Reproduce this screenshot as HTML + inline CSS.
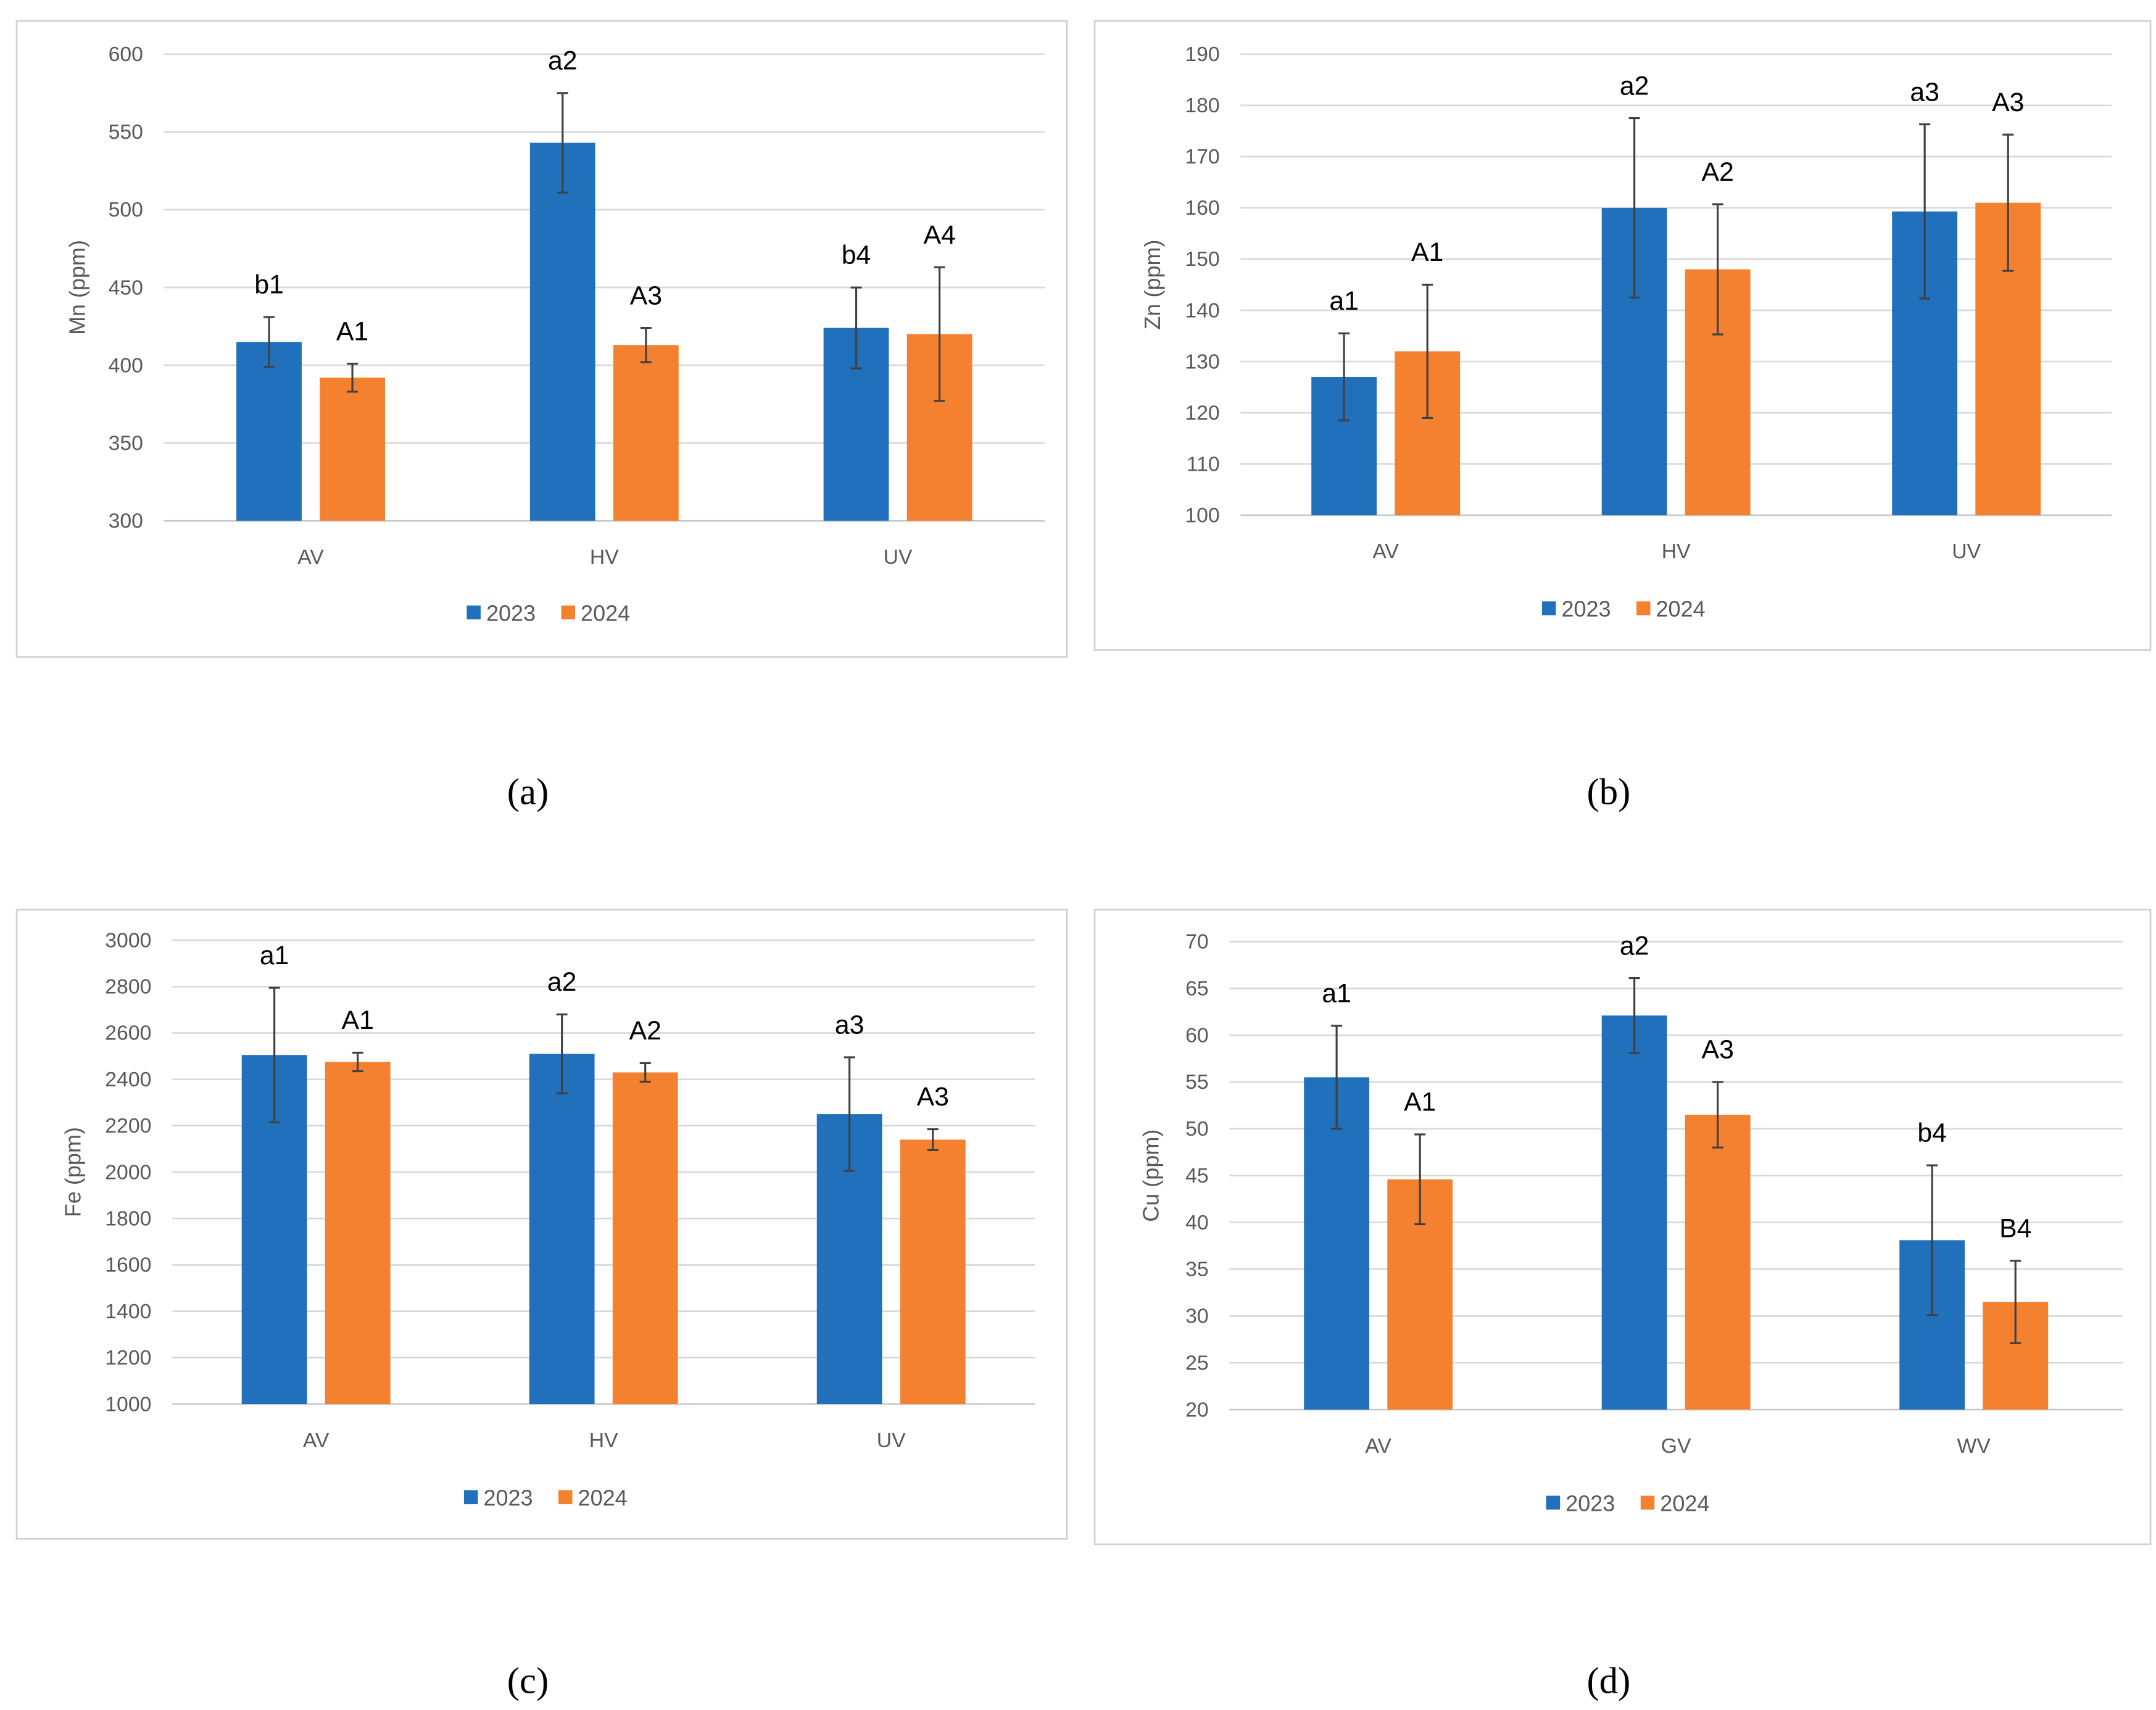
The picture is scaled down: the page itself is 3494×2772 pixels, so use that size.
<!DOCTYPE html>
<html><head><meta charset="utf-8">
<style>
html,body{margin:0;padding:0;background:#fff;}
svg{display:block;}
</style></head>
<body>
<svg id="root" width="3494" height="2772" viewBox="0 0 1552 1231.3" preserveAspectRatio="none" xmlns="http://www.w3.org/2000/svg" font-family="Liberation Sans, sans-serif">
</svg>
<script>
// ---- data ----
const catsA = ['AV','HV','UV'];
const mn2023 = [415, 543, 424];
const mn2024 = [392, 413, 420];
const mnErr2023 = [16, 32, 26];
const mnErr2024 = [9, 11, 43];
const mnLab2023 = ['b1','a2','b4'];
const mnLab2024 = ['A1','A3','A4'];
const mnTicks = [300,350,400,450,500,550,600];

const catsB = ['AV','HV','UV'];
const zn2023 = [127, 160, 159.3];
const zn2024 = [132, 148, 161];
const znErr2023 = [8.5, 17.5, 17];
const znErr2024 = [13, 12.7, 13.3];
const znLab2023 = ['a1','a2','a3'];
const znLab2024 = ['A1','A2','A3'];
const znTicks = [100,110,120,130,140,150,160,170,180,190];

const catsC = ['AV','HV','UV'];
const fe2023 = [2505, 2510, 2250];
const fe2024 = [2475, 2430, 2140];
const feErr2023 = [290, 170, 245];
const feErr2024 = [40, 40, 45];
const feLab2023 = ['a1','a2','a3'];
const feLab2024 = ['A1','A2','A3'];
const feTicks = [1000,1200,1400,1600,1800,2000,2200,2400,2600,2800,3000];

const catsD = ['AV','GV','WV'];
const cu2023 = [55.5, 62.1, 38.1];
const cu2024 = [44.6, 51.5, 31.5];
const cuErr2023 = [5.5, 4, 8];
const cuErr2024 = [4.8, 3.5, 4.4];
const cuLab2023 = ['a1','a2','b4'];
const cuLab2024 = ['A1','A3','B4'];
const cuTicks = [20,25,30,35,40,45,50,55,60,65,70];

const NS='http://www.w3.org/2000/svg';
const root=document.getElementById('root');
function mk(tag,attrs,parent,text){const e=document.createElementNS(NS,tag);for(const k in attrs)e.setAttribute(k,attrs[k]);if(text!==undefined)e.textContent=text;(parent||root).appendChild(e);return e;}

const BLUE='#2070BB', ORANGE='#F4812F';

function panel(p){
  const g=mk('g',{});
  
  
  const fr=mk('rect',{x:p.fx,y:p.fy,width:p.fw,height:p.fh,fill:'#fff',stroke:'#d0d0d0','stroke-width':1.2},g);
  
  
  const min=p.ticks[0], max=p.ticks[p.ticks.length-1];
  const y=v=>p.y1+(v-min)/(max-min)*(p.y0-p.y1)*-1+ (p.y0-p.y1)*0 ; // placeholder
  const Y=v=>p.y0-(v-min)/(max-min)*(p.y0-p.y1);
  const cw=(p.x1-p.x0)/p.cats.length;
  const X=i=>p.x0+cw*(i+0.5);
  p.ticks.forEach(t=>{
    const l=mk('line',{x1:p.x0,x2:p.x1,y1:Y(t),y2:Y(t),stroke:t===min?'#c8c8c8':'#d9d9d9','stroke-width':1.2},g);
    
    
    const tx=mk('text',{x:p.x0-15,y:Y(t)+5,'font-size':15,fill:'#595959','text-anchor':'end'},g,t);
    
    
  });
  const yt=mk('text',{x:0,y:0,'font-size':16,fill:'#595959','text-anchor':'middle',transform:`translate(${p.tx},${(p.y0+p.y1)/2}) rotate(-90)`},g,p.title);
  
  
  const bw=47, off=30;
  p.cats.forEach((c,i)=>{
    const xl=mk('text',{x:X(i),y:p.y0+31,'font-size':15,fill:'#595959','text-anchor':'middle'},g,c);
    
    
    [[p.s1,p.e1,p.l1,BLUE,-off,'2023'],[p.s2,p.e2,p.l2,ORANGE,off,'2024']].forEach(([s,e,lab,col,o,yr])=>{
      const cx=X(i)+o;
      const b=mk('rect',{x:cx-bw/2,y:Y(s[i]),width:bw,height:Y(min)-Y(s[i]),fill:col},g);
      
      
      const top=Y(s[i]+e[i]), bot=Y(s[i]-e[i]);
      const eg=mk('path',{d:`M${cx},${top}V${bot}M${cx-4},${top}H${cx+4}M${cx-4},${bot}H${cx+4}`,stroke:'#404040','stroke-width':1.4,fill:'none'},g);
      
      
      const lt=mk('text',{x:cx,y:top-17,'font-size':19,fill:'#000','text-anchor':'middle'},g,lab[i]);
      
      
    });
  });
  [[p.lg,BLUE,'2023'],[p.lg+68,ORANGE,'2024']].forEach(([lx,col,t])=>{
    const sq=mk('rect',{x:lx,y:p.ly-5,width:10,height:10,fill:col},g);
    
    
    const lt=mk('text',{x:lx+14,y:p.ly+6,'font-size':16,fill:'#595959'},g,t);
    
    
  });
  const cap=mk('text',{x:p.cx,y:p.cy+9,'font-size':27,fill:'#000','text-anchor':'middle','font-family':'Liberation Serif, serif'},g,p.cap);
  
  
}

panel({name:'chart-mn',fx:12,fy:15,fw:756,fh:458,x0:118,x1:752,y0:375,y1:39,ticks:mnTicks,cats:catsA,s1:mn2023,s2:mn2024,e1:mnErr2023,e2:mnErr2024,l1:mnLab2023,l2:mnLab2024,title:'Mn (ppm)',tx:61,lg:336,ly:441,cap:'(a)',cx:380,cy:570});
panel({name:'chart-zn',fx:788,fy:15,fw:760,fh:453,x0:893,x1:1520,y0:371,y1:39,ticks:znTicks,cats:catsB,s1:zn2023,s2:zn2024,e1:znErr2023,e2:znErr2024,l1:znLab2023,l2:znLab2024,title:'Zn (ppm)',tx:835,lg:1110,ly:438,cap:'(b)',cx:1158,cy:570});
panel({name:'chart-fe',fx:12,fy:655,fw:756,fh:453,x0:124,x1:745,y0:1011,y1:677,ticks:feTicks,cats:catsC,s1:fe2023,s2:fe2024,e1:feErr2023,e2:feErr2024,l1:feLab2023,l2:feLab2024,title:'Fe (ppm)',tx:58,lg:334,ly:1078,cap:'(c)',cx:380,cy:1210});
panel({name:'chart-cu',fx:788,fy:655,fw:760,fh:457,x0:885,x1:1528,y0:1015,y1:678,ticks:cuTicks,cats:catsD,s1:cu2023,s2:cu2024,e1:cuErr2023,e2:cuErr2024,l1:cuLab2023,l2:cuLab2024,title:'Cu (ppm)',tx:834,lg:1113,ly:1082,cap:'(d)',cx:1158,cy:1210});
</script>
</body></html>
